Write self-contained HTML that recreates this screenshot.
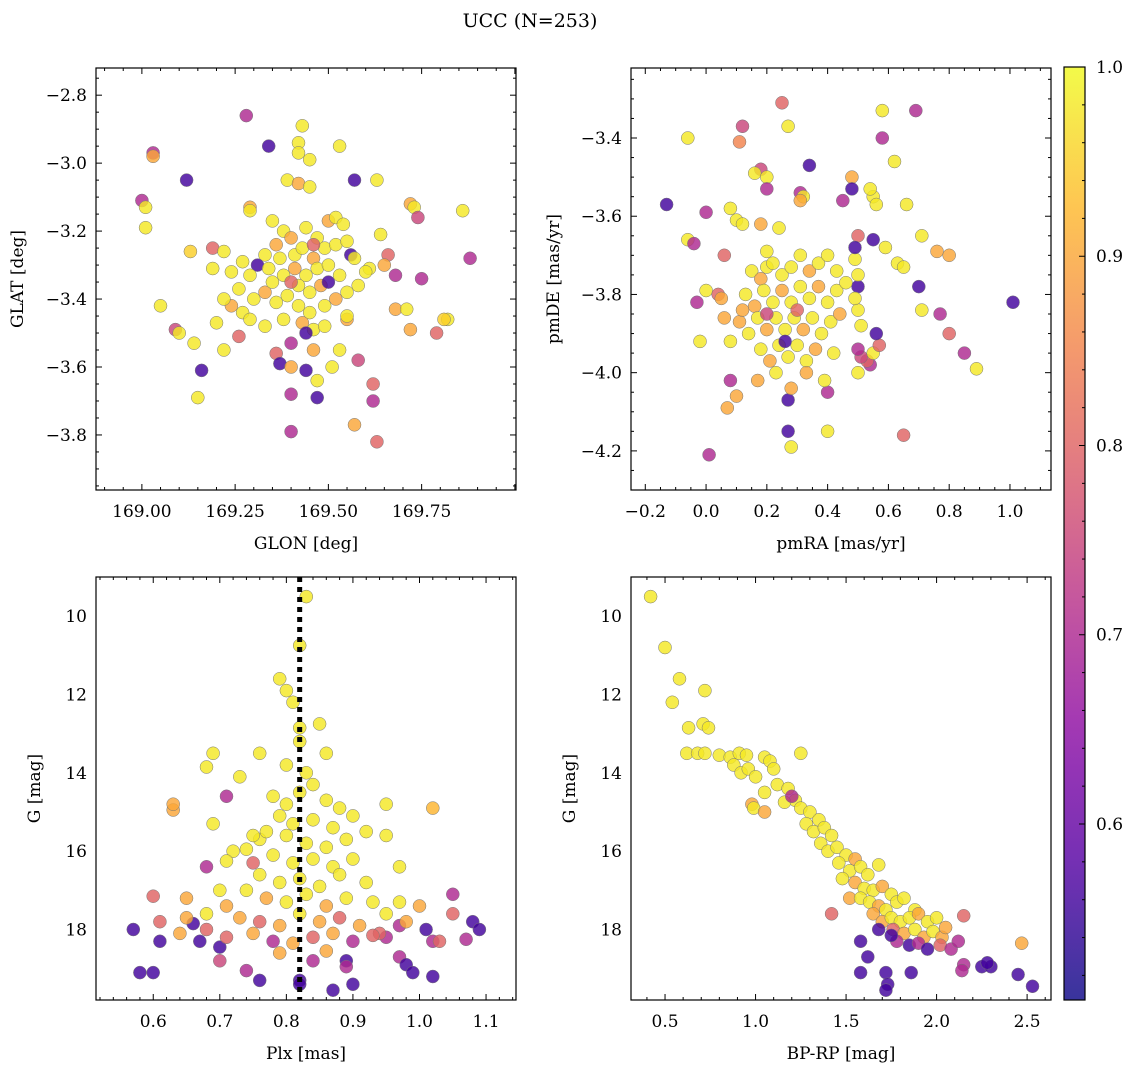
<!DOCTYPE html>
<html><head><meta charset="utf-8"><style>
body{margin:0;background:#fff;}
svg{display:block;font-family:"DejaVu Serif","Liberation Serif",serif;}
</style></head><body>
<svg id="chart" width="1136" height="1067" viewBox="0 0 1136 1067" xmlns="http://www.w3.org/2000/svg">
<rect width="1136" height="1067" fill="#fff"/>
<text x="530" y="27" font-size="19" text-anchor="middle">UCC (N=253)</text>
</svg>
<script>
// ---- Panel 1 data: GLON / GLAT ----
const glon=[169.28,169.34,169.43,169.42,169.42,169.45,169.53,169.57,169.63,169.03,169.03,169.12,169.00,169.01,169.01,169.39,169.42,169.45,169.29,169.29,169.72,169.73,169.74,169.86,169.19,169.13,169.19,169.22,169.05,169.20,169.09,169.10,169.14,169.22,169.26,169.36,169.37,169.40,169.40,169.44,169.16,169.15,169.47,169.47,169.40,169.40,169.57,169.62,169.62,169.63,169.58,169.51,169.55,169.55,169.68,169.79,169.72,169.71,169.82,169.81,169.68,169.75,169.66,169.64,169.88,169.61,169.56,169.65,
169.35,169.38,169.40,169.44,169.47,169.50,169.52,169.54,169.36,169.33,169.31,169.29,169.34,169.37,169.41,169.43,169.46,169.49,169.52,169.55,169.38,169.41,169.44,169.47,169.50,169.53,169.42,169.45,169.48,169.39,169.36,169.33,169.30,169.27,169.24,169.22,169.26,169.42,169.45,169.49,169.52,169.55,169.58,169.60,169.43,169.46,169.49,169.38,169.33,169.29,169.46,169.40,169.50,169.35,169.27,169.24,169.57,169.53,169.46,169.44];
const glat=[-2.86,-2.95,-2.89,-2.94,-2.97,-2.99,-2.95,-3.05,-3.05,-2.97,-2.98,-3.05,-3.11,-3.13,-3.19,-3.05,-3.06,-3.07,-3.13,-3.14,-3.12,-3.13,-3.16,-3.14,-3.25,-3.26,-3.31,-3.26,-3.42,-3.47,-3.49,-3.50,-3.53,-3.55,-3.51,-3.56,-3.59,-3.53,-3.60,-3.61,-3.61,-3.69,-3.64,-3.69,-3.68,-3.79,-3.77,-3.65,-3.70,-3.82,-3.58,-3.60,-3.46,-3.45,-3.43,-3.50,-3.49,-3.43,-3.46,-3.46,-3.33,-3.34,-3.27,-3.21,-3.28,-3.31,-3.27,-3.30,
-3.17,-3.20,-3.22,-3.19,-3.22,-3.17,-3.16,-3.18,-3.24,-3.27,-3.30,-3.33,-3.31,-3.28,-3.27,-3.25,-3.28,-3.25,-3.24,-3.23,-3.33,-3.31,-3.33,-3.31,-3.30,-3.33,-3.36,-3.38,-3.36,-3.39,-3.41,-3.38,-3.40,-3.44,-3.42,-3.40,-3.37,-3.42,-3.44,-3.42,-3.40,-3.38,-3.36,-3.32,-3.47,-3.49,-3.48,-3.46,-3.48,-3.46,-3.24,-3.35,-3.35,-3.35,-3.29,-3.32,-3.28,-3.55,-3.55,-3.50];
const prob1=[.7,.56,.98,.98,.98,.98,.98,.56,.98,.7,.9,.56,.7,.98,.98,.98,.9,.98,.9,.98,.9,.98,.75,.98,.8,.95,.98,.98,.98,.98,.75,.98,.98,.98,.8,.8,.56,.7,.9,.56,.56,.98,.98,.56,.7,.7,.9,.8,.7,.8,.75,.98,.9,.98,.9,.8,.9,.98,.98,.95,.7,.7,.8,.98,.7,.98,.56,.9,
.98,.98,.9,.98,.98,.9,.98,.98,.9,.98,.56,.98,.98,.98,.98,.98,.9,.98,.98,.98,.98,.9,.98,.98,.98,.98,.98,.98,.9,.98,.98,.9,.98,.98,.9,.98,.98,.98,.98,.98,.9,.98,.98,.98,.9,.98,.98,.98,.98,.98,.8,.8,.56,.98,.98,.98,.98,.98,.9,.56];
// ---- Panel 2 data: pmRA / pmDE ----
const pmra=[0.25,0.58,0.69,0.27,0.12,-0.06,0.11,0.58,0.34,0.62,0.18,0.16,0.20,0.48,0.20,0.48,0.31,0.32,0.55,0.31,-0.13,0.56,0.66,0.45,0.54,0.08,0.00,0.10,0.12,0.18,0.24,0.55,0.71,0.50,-0.06,-0.04,0.59,0.06,0.20,0.20,0.00,-0.03,-0.02,0.04,0.05,0.06,0.08,0.08,0.07,0.10,0.01,0.27,0.27,0.28,0.28,0.40,0.40,0.39,0.50,0.54,0.53,0.51,0.50,0.55,0.57,0.56,0.51,0.50,0.50,0.49,0.50,0.49,0.49,0.63,0.65,0.70,0.71,0.77,0.76,0.80,0.80,0.85,0.89,1.01,0.65,
0.15,0.18,0.22,0.25,0.28,0.31,0.34,0.37,0.40,0.43,0.13,0.16,0.19,0.22,0.25,0.28,0.31,0.34,0.37,0.40,0.43,0.46,0.11,0.14,0.17,0.20,0.23,0.26,0.29,0.32,0.35,0.38,0.41,0.44,0.18,0.21,0.24,0.27,0.30,0.33,0.36,0.42,0.17,0.23,0.33,0.12,0.30,0.26,0.20];
const pmde=[-3.31,-3.33,-3.33,-3.37,-3.37,-3.40,-3.41,-3.40,-3.47,-3.46,-3.48,-3.49,-3.50,-3.50,-3.53,-3.53,-3.54,-3.55,-3.55,-3.56,-3.57,-3.57,-3.57,-3.56,-3.53,-3.58,-3.59,-3.61,-3.62,-3.62,-3.63,-3.66,-3.65,-3.65,-3.66,-3.67,-3.68,-3.70,-3.69,-3.73,-3.79,-3.82,-3.92,-3.80,-3.81,-3.86,-3.92,-4.02,-4.09,-4.06,-4.21,-4.07,-4.15,-4.19,-4.04,-4.15,-4.05,-4.02,-4.00,-3.98,-3.97,-3.96,-3.94,-3.95,-3.93,-3.90,-3.88,-3.84,-3.78,-3.81,-3.75,-3.71,-3.68,-3.72,-3.73,-3.78,-3.84,-3.85,-3.69,-3.70,-3.90,-3.95,-3.99,-3.82,-4.16,
-3.74,-3.76,-3.72,-3.75,-3.73,-3.70,-3.74,-3.72,-3.70,-3.74,-3.80,-3.83,-3.79,-3.82,-3.79,-3.82,-3.78,-3.81,-3.78,-3.82,-3.79,-3.77,-3.87,-3.90,-3.86,-3.89,-3.86,-3.89,-3.86,-3.89,-3.86,-3.90,-3.87,-3.85,-3.94,-3.97,-3.93,-3.96,-3.93,-3.97,-3.94,-3.95,-4.02,-4.00,-4.00,-3.84,-3.84,-3.92,-3.85];
const prob2=[.8,.98,.7,.98,.75,.98,.85,.7,.56,.98,.75,.98,.98,.9,.7,.56,.7,.98,.98,.9,.56,.98,.98,.7,.98,.98,.7,.98,.98,.9,.98,.56,.98,.8,.98,.7,.98,.8,.98,.98,.98,.7,.98,.8,.9,.9,.98,.7,.9,.9,.7,.56,.56,.98,.9,.98,.7,.98,.98,.7,.8,.75,.7,.98,.8,.56,.98,.98,.56,.98,.98,.98,.56,.98,.98,.56,.98,.7,.9,.9,.8,.7,.98,.56,.8,
.98,.9,.98,.98,.98,.98,.9,.98,.98,.98,.98,.9,.98,.98,.9,.98,.98,.98,.9,.98,.98,.98,.9,.98,.98,.9,.98,.98,.98,.9,.98,.98,.98,.9,.98,.9,.98,.98,.98,.98,.9,.98,.9,.98,.9,.9,.8,.56,.75];
// ---- Panel 3 data: Plx / G ----
const plx=[0.83,0.82,0.79,0.80,0.81,0.85,0.82,0.82,0.69,0.76,0.68,0.86,0.73,0.71,0.63,0.63,0.69,1.02,0.95,0.76,0.75,0.72,0.74,0.71,0.68,0.75,0.95,0.97,0.70,0.65,0.60,0.61,0.57,0.61,0.58,0.60,0.66,0.67,0.68,0.70,0.74,0.82,0.82,0.87,0.90,0.89,0.89,0.97,0.98,0.99,1.02,1.02,1.01,1.03,1.05,1.05,1.07,1.08,1.09,0.97,0.95,0.94,
0.80,0.83,0.84,0.78,0.80,0.82,0.86,0.88,0.79,0.81,0.84,0.87,0.90,0.77,0.80,0.83,0.86,0.89,0.92,0.78,0.81,0.84,0.87,0.90,0.76,0.79,0.82,0.85,0.88,0.92,0.74,0.77,0.80,0.83,0.86,0.89,0.93,0.97,1.00,0.71,0.68,0.65,0.73,0.76,0.79,0.82,0.85,0.88,0.91,0.95,0.98,0.64,0.71,0.75,0.78,0.81,0.84,0.87,0.90,0.93,0.86,0.79,0.84,0.76,0.70];
const gmag3=[9.5,10.75,11.6,11.9,12.2,12.75,12.85,13.2,13.5,13.5,13.85,13.5,14.1,14.6,14.95,14.8,15.3,14.9,14.8,15.7,15.6,16.0,15.95,16.25,16.4,16.3,15.6,16.4,17.0,17.2,17.15,17.8,18.0,18.3,19.1,19.1,17.85,18.3,18.0,18.45,19.05,19.3,19.4,19.55,19.4,18.8,18.95,18.7,18.9,19.1,19.2,18.3,18.0,18.3,17.1,17.6,18.25,17.8,18.0,17.9,18.2,18.1,
13.8,14.0,14.3,14.6,14.8,14.5,14.7,14.9,15.1,15.3,15.2,15.4,15.1,15.5,15.6,15.8,15.9,15.7,15.5,16.1,16.3,16.2,16.4,16.2,16.6,16.8,16.7,16.9,16.6,16.8,17.0,17.2,17.3,17.1,17.4,17.2,17.3,17.3,17.4,17.4,17.6,17.7,17.7,17.8,17.9,17.6,17.8,17.7,17.9,17.6,17.8,18.1,18.2,18.1,18.3,18.35,18.2,18.1,18.3,18.15,18.55,18.6,18.8,19.3,18.8];
const prob3=[.98,.98,.98,.98,.98,.98,.98,.98,.98,.98,.98,.98,.98,.7,.9,.9,.98,.92,.98,.98,.98,.98,.98,.98,.7,.8,.98,.98,.98,.9,.8,.8,.56,.56,.56,.56,.56,.56,.8,.56,.7,.56,.56,.56,.56,.56,.7,.7,.56,.56,.56,.7,.56,.8,.7,.8,.7,.56,.56,.7,.7,.8,
.98,.98,.98,.98,.98,.98,.98,.98,.98,.98,.98,.98,.98,.98,.98,.98,.98,.98,.98,.98,.98,.98,.98,.98,.98,.98,.98,.98,.98,.98,.98,.9,.98,.98,.9,.98,.98,.98,.9,.9,.98,.9,.9,.8,.9,.98,.9,.8,.9,.98,.9,.9,.8,.9,.7,.9,.8,.9,.7,.8,.9,.9,.7,.56,.75];
const plxLine=[0.82];
// ---- Panel 4 data: BP-RP / G ----
const bprp=[0.42,0.50,0.58,0.54,0.72,0.71,0.74,0.63,0.62,0.68,0.72,0.80,0.86,0.91,0.95,1.05,1.25,0.88,0.92,0.96,1.00,1.08,1.10,1.12,1.05,1.18,1.22,0.98,0.99,1.05,1.16,1.20,1.25,1.30,1.35,1.28,1.32,1.38,1.42,1.36,1.40,1.45,1.50,1.46,1.52,1.55,1.58,1.62,1.68,1.48,1.55,1.60,1.65,1.70,1.75,1.52,1.58,1.63,1.68,1.72,1.78,1.82,1.88,1.65,1.70,1.75,1.80,1.85,1.90,1.95,2.00,1.68,1.76,1.82,1.88,1.93,1.98,2.03,1.78,1.85,1.90,1.95,2.02,2.08,2.12,2.15,2.15,2.14,2.25,2.30,2.28,2.45,2.53,2.47,1.42,1.58,1.58,1.72,1.73,1.72,1.86,1.62,1.75,2.05];
const gmag4=[9.5,10.8,11.6,12.2,11.9,12.75,12.85,12.85,13.5,13.5,13.5,13.55,13.6,13.5,13.55,13.6,13.5,13.8,14.0,13.9,14.1,13.7,13.9,14.3,14.5,14.4,14.7,14.8,14.9,15.0,14.75,14.6,14.9,15.0,15.2,15.3,15.5,15.4,15.6,15.8,16.0,15.9,16.1,16.3,16.5,16.2,16.4,16.6,16.35,16.7,16.8,16.95,17.0,16.9,17.1,17.2,17.2,17.3,17.4,17.5,17.3,17.2,17.5,17.6,17.8,17.7,17.8,17.7,17.6,17.8,17.7,18.0,18.0,18.1,18.0,18.2,18.05,18.2,18.3,18.4,18.35,18.5,18.4,18.5,18.3,17.65,18.9,19.05,18.95,18.95,18.85,19.15,19.45,18.35,17.6,18.3,19.1,19.1,19.4,19.55,19.1,18.7,18.15,17.95];
const prob4=[.98,.98,.98,.98,.98,.98,.98,.98,.98,.98,.98,.98,.98,.98,.98,.98,.98,.98,.98,.98,.98,.98,.98,.98,.98,.98,.98,.9,.98,.9,.98,.7,.98,.98,.98,.98,.98,.98,.98,.98,.98,.98,.98,.98,.98,.9,.98,.98,.98,.98,.9,.98,.98,.9,.98,.9,.98,.98,.9,.98,.98,.98,.98,.9,.9,.98,.98,.98,.9,.98,.98,.56,.8,.9,.98,.9,.98,.9,.7,.56,.7,.56,.8,.7,.7,.8,.7,.7,.56,.56,.56,.56,.56,.9,.8,.56,.56,.56,.56,.56,.56,.56,.56,.9];
// ---- tick labels ----
const ticks1x=[169.00,169.25,169.50,169.75];
const ticks1y=[-2.8,-3.0,-3.2,-3.4,-3.6,-3.8];
const ticks2x=[-0.2,0.0,0.2,0.4,0.6,0.8,1.0];
const ticks2y=[-3.4,-3.6,-3.8,-4.0,-4.2];
const ticks3x=[0.6,0.7,0.8,0.9,1.0,1.1];
const ticksG=[10,12,14,16,18];
const ticks4x=[0.5,1.0,1.5,2.0,2.5];
const ticksCb=[0.6,0.7,0.8,0.9,1.0];

const svg=document.getElementById('chart');
const NS='http://www.w3.org/2000/svg';
function mk(tag,attrs,parent){const e=document.createElementNS(NS,tag);for(const k in attrs)e.setAttribute(k,attrs[k]);(parent||svg).appendChild(e);return e;}
const CMIN=0.507,CMAX=1.0;
const stops=[[13,8,135],[84,2,163],[139,10,165],[185,50,137],[219,92,104],[244,136,73],[254,188,43],[240,249,33]];
function plasma(v){let t=(v-CMIN)/(CMAX-CMIN);t=Math.max(0,Math.min(1,t));const s=t*(stops.length-1);const i=Math.min(stops.length-2,Math.floor(s));const f=s-i;const c=stops[i].map((a,k)=>Math.round(a+(stops[i+1][k]-a)*f));return `rgb(${c[0]},${c[1]},${c[2]})`;}
const FS=17;
function panel(o){
  const {x0,x1,y0,y1,xmin,xmax,ymin,ymax}=o;
  const sx=v=>x0+(v-xmin)/(xmax-xmin)*(x1-x0);
  const sy=v=>y1-(v-ymin)/(ymax-ymin)*(y1-y0);
  const g=mk('g',{});
  
  
  const pts=mk('g',{},g);
  
  
  for(let i=0;i<o.xs.length;i++){
    const c=mk('circle',{cx:sx(o.xs[i]).toFixed(1),cy:sy(o.ys[i]).toFixed(1),r:6.5,fill:plasma(o.cs[i]),'fill-opacity':0.82,stroke:'#777','stroke-width':0.5},pts);
    
    
  }
  if(o.vline){
    const l=mk('line',{x1:sx(o.vline),x2:sx(o.vline),y1:y0,y2:y1,stroke:'#000','stroke-width':5,'stroke-dasharray':'5,5'},g);
    
    
  }
  const fr=mk('rect',{x:x0,y:y0,width:x1-x0,height:y1-y0,fill:'none',stroke:'#000','stroke-width':1.2},g);
  
  
  const tk=mk('g',{stroke:'#000','stroke-width':1},g);
  const eps=1e-9;
  const first=Math.ceil((xmin-eps)/o.xminor)*o.xminor;
  for(let v=first;v<=xmax+eps;v+=o.xminor){
    const major=Math.abs(v/o.xmajor-Math.round(v/o.xmajor))<1e-6;const L=major?6:3;const X=sx(v);
    mk('line',{x1:X,x2:X,y1:y1,y2:y1-L},tk);mk('line',{x1:X,x2:X,y1:y0,y2:y0+L},tk);
  }
  const firsty=Math.ceil((ymin-eps)/o.yminor)*o.yminor;
  for(let v=firsty;v<=ymax+eps;v+=o.yminor){
    const major=Math.abs(v/o.ymajor-Math.round(v/o.ymajor))<1e-6;const L=major?6:3;const Y=sy(v);
    mk('line',{x1:x0,x2:x0+L,y1:Y,y2:Y},tk);mk('line',{x1:x1,x2:x1-L,y1:Y,y2:Y},tk);
  }
  o.xt.forEach(v=>{const t=mk('text',{x:sx(v),y:y1+27,'font-size':FS,'text-anchor':'middle'},g);t.textContent=v.toFixed(o.xdec).replace('-','\u2212');
    
    });
  o.yt.forEach(v=>{const t=mk('text',{x:x0-9,y:sy(v)+6,'font-size':FS,'text-anchor':'end'},g);t.textContent=v.toFixed(o.ydec).replace('-','\u2212');
    
    });
  const xl=mk('text',{x:(x0+x1)/2,y:y1+59,'font-size':FS,'text-anchor':'middle'},g);xl.textContent=o.xlabel;
  
  
  const yx=o.ylx;const yy=(y0+y1)/2;
  const yl=mk('text',{x:yx,y:yy,'font-size':FS,'text-anchor':'middle',transform:`rotate(-90 ${yx} ${yy})`},g);yl.textContent=o.ylabel;
  
  
}
panel({name:'glon-glat-panel',x0:96,x1:516,y0:68,y1:490,xmin:168.877,xmax:170.003,ymin:-3.962,ymax:-2.72,xs:glon,ys:glat,cs:prob1,xt:ticks1x,yt:ticks1y,xdec:2,ydec:1,xmajor:0.25,xminor:0.05,ymajor:0.2,yminor:0.05,xlabel:'GLON [deg]',ylabel:'GLAT [deg]',ylx:23});
panel({name:'pm-panel',x0:631,x1:1051,y0:68,y1:490,xmin:-0.247,xmax:1.135,ymin:-4.300,ymax:-3.221,xs:pmra,ys:pmde,cs:prob2,xt:ticks2x,yt:ticks2y,xdec:1,ydec:1,xmajor:0.2,xminor:0.05,ymajor:0.2,yminor:0.05,xlabel:'pmRA [mas/yr]',ylabel:'pmDE [mas/yr]',ylx:559});
panel({name:'plx-g-panel',x0:96,x1:516,y0:577,y1:1000,xmin:0.514,xmax:1.145,ymin:19.8,ymax:9.0,xs:plx,ys:gmag3,cs:prob3,xt:ticks3x,yt:ticksG,xdec:1,ydec:0,xmajor:0.1,xminor:0.02,ymajor:2,yminor:0.5,xlabel:'Plx [mas]',ylabel:'G [mag]',ylx:40,vline:plxLine[0]});
panel({name:'cmd-panel',x0:631,x1:1051,y0:577,y1:1000,xmin:0.312,xmax:2.632,ymin:19.8,ymax:9.0,xs:bprp,ys:gmag4,cs:prob4,xt:ticks4x,yt:ticksG,xdec:1,ydec:0,xmajor:0.5,xminor:0.1,ymajor:2,yminor:0.5,xlabel:'BP-RP [mag]',ylabel:'G [mag]',ylx:575});
// colorbar
(function(){
  const x0=1064,x1=1085,y0=67,y1=1000;
  const sy=v=>y1-(v-CMIN)/(CMAX-CMIN)*(y1-y0);
  const g=mk('g',{});
  
  
  const defs=mk('defs',{},g);
  const lg=mk('linearGradient',{id:'cbg',x1:0,y1:1,x2:0,y2:0},defs);
  for(let i=0;i<=20;i++){const v=CMIN+(CMAX-CMIN)*i/20;mk('stop',{offset:(i/20),'stop-color':plasma(v),'stop-opacity':0.82},lg);}
  mk('rect',{x:x0,y:y0,width:x1-x0,height:y1-y0,fill:'url(#cbg)'},g);
  mk('rect',{x:x0,y:y0,width:x1-x0,height:y1-y0,fill:'none',stroke:'#000','stroke-width':1.2},g);
  for(let v=0.52;v<=1.0001;v+=0.02){const major=Math.abs(v*10-Math.round(v*10))<1e-6;const Y=sy(v);
    mk('line',{x1:x1,x2:x1-(major?6:3),y1:Y,y2:Y,stroke:'#000','stroke-width':1},g);}
  ticksCb.forEach(v=>{const t=mk('text',{x:x1+11,y:sy(v)+6,'font-size':FS},g);t.textContent=v.toFixed(1);
    
    });
})();
</script>
</body></html>
